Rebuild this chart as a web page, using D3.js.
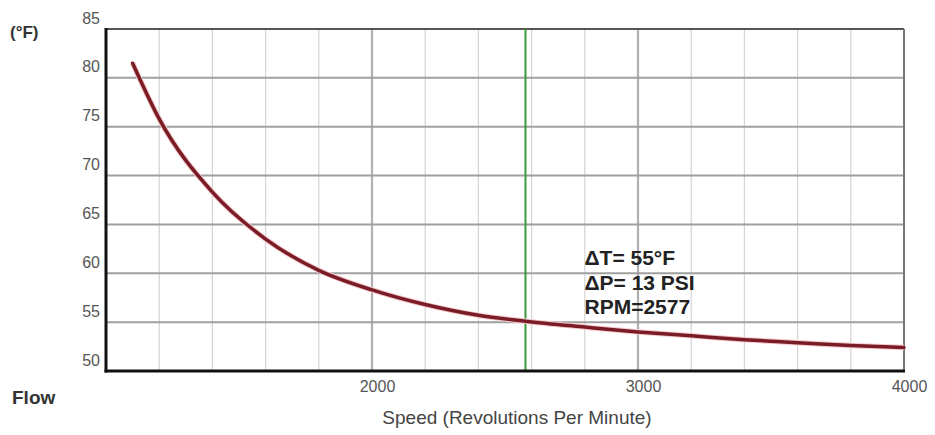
<!DOCTYPE html>
<html>
<head>
<meta charset="utf-8">
<script src="https://cdn.jsdelivr.net/npm/d3@7"></script>
<style>
  body { margin: 0; background: #fff; }
  svg { display: block; font-family: "Liberation Sans", Arial, sans-serif; }
</style>
</head>
<body>
<svg id="chart" width="935" height="435"></svg>
<script>
// Outlet temperature vs. pump speed
var rpm = [1100, 1200, 1400, 1600, 1800, 2000, 2200, 2400, 2577, 2800, 3000, 3200, 3400, 3600, 3800, 4000];
var tempF = [81.5, 75.8, 68.3, 63.5, 60.3, 58.3, 56.8, 55.7, 55.1, 54.5, 54.0, 53.6, 53.2, 52.9, 52.6, 52.4];

var yTicks = [50, 55, 60, 65, 70, 75, 80, 85];
var xTickLabels = [2000, 3000, 4000];
var xGrid = [1200, 1400, 1600, 1800, 2000, 2200, 2400, 2600, 2800, 3000, 3200, 3400, 3600, 3800];
var xMajor = [2000, 3000];

var markerRpm = 2577;
var noteLines = ["\u0394T= 55\u00b0F", "\u0394P= 13 PSI", "RPM=2577"];

var svg = d3.select("#chart"),
    margin = { top: 29, right: 31, bottom: 64, left: 106 },
    width = +svg.attr("width") - margin.left - margin.right,
    height = +svg.attr("height") - margin.top - margin.bottom;

var x = d3.scaleLinear().domain([1000, 4000]).range([0, width]);
var y = d3.scaleLinear().domain([50, 85]).range([height, 0]);

var g = svg.append("g")
    .attr("transform", "translate(" + margin.left + "," + margin.top + ")");

// vertical grid
g.selectAll(".vgrid")
    .data(xGrid)
    .enter().append("line")
    .attr("class", "vgrid")
    .attr("x1", function (d) { return x(d); })
    .attr("x2", function (d) { return x(d); })
    .attr("y1", 0)
    .attr("y2", height)
    .attr("stroke", function (d) { return xMajor.indexOf(d) >= 0 ? "#b0b0b0" : "#d4d4d4"; })
    .attr("stroke-width", function (d) { return xMajor.indexOf(d) >= 0 ? 2.2 : 1.2; });

// horizontal grid
g.selectAll(".hgrid")
    .data(yTicks.slice(1, -1))
    .enter().append("line")
    .attr("class", "hgrid")
    .attr("x1", 0)
    .attr("x2", width)
    .attr("y1", function (d) { return y(d); })
    .attr("y2", function (d) { return y(d); })
    .attr("stroke", "#a0a0a0")
    .attr("stroke-width", 2);

// frame
g.append("line").attr("x1", 0).attr("x2", width).attr("y1", 0).attr("y2", 0)
    .attr("stroke", "#555").attr("stroke-width", 2);
g.append("line").attr("x1", width).attr("x2", width).attr("y1", 0).attr("y2", height)
    .attr("stroke", "#777").attr("stroke-width", 2);

// marker line
g.append("line")
    .attr("x1", x(markerRpm)).attr("x2", x(markerRpm))
    .attr("y1", 0).attr("y2", height)
    .attr("stroke", "#3a9a3a")
    .attr("stroke-width", 2);

// curve
var pts = rpm.map(function (r, i) { return [r, tempF[i]]; });
var line = d3.line()
    .x(function (d) { return x(d[0]); })
    .y(function (d) { return y(d[1]); })
    .curve(d3.curveMonotoneX);

g.append("path")
    .datum(pts)
    .attr("fill", "none")
    .attr("stroke", "#f3c9cc")
    .attr("stroke-width", 5.5)
    .attr("d", line);
g.append("path")
    .datum(pts)
    .attr("fill", "none")
    .attr("stroke", "#7a1c25")
    .attr("stroke-width", 3.5)
    .attr("stroke-linecap", "round")
    .attr("d", line);

// left + bottom axis lines (thick black)
g.append("line").attr("x1", 0).attr("x2", 0).attr("y1", -1).attr("y2", height + 1.5)
    .attr("stroke", "#111").attr("stroke-width", 3);
g.append("line").attr("x1", -1.5).attr("x2", width + 1).attr("y1", height).attr("y2", height)
    .attr("stroke", "#111").attr("stroke-width", 3);

// y axis labels
var yAxis = g.append("g")
    .call(d3.axisLeft(y).tickValues(yTicks).tickSize(0).tickPadding(6));
yAxis.select(".domain").remove();
yAxis.selectAll("text")
    .attr("dy", -6)
    .attr("fill", "#555")
    .style("font-size", "16px")
    .style("font-family", "Liberation Sans, Arial, sans-serif");

// x axis labels
var xAxis = g.append("g")
    .attr("transform", "translate(0," + height + ")")
    .call(d3.axisBottom(x).tickValues(xTickLabels).tickFormat(d3.format("d")).tickSize(0).tickPadding(10));
xAxis.select(".domain").remove();
xAxis.selectAll("text")
    .attr("x", 5)
    .attr("dy", "0.71em")
    .attr("fill", "#555")
    .style("font-size", "16px")
    .style("font-family", "Liberation Sans, Arial, sans-serif");

// axis titles
svg.append("text")
    .attr("x", margin.left + x(2500) + 12)
    .attr("y", margin.top + height + 53)
    .attr("text-anchor", "middle")
    .attr("fill", "#444")
    .style("font-size", "19px")
    .text("Speed (Revolutions Per Minute)");

svg.append("text")
    .attr("x", 10)
    .attr("y", 38)
    .attr("fill", "#333")
    .style("font-size", "17px")
    .style("font-weight", "bold")
    .text("(\u00b0F)");

svg.append("text")
    .attr("x", 12)
    .attr("y", 404)
    .attr("fill", "#333")
    .style("font-size", "19px")
    .style("font-weight", "bold")
    .text("Flow");

// annotation
g.append("g")
    .selectAll("text")
    .data(noteLines)
    .enter().append("text")
    .attr("x", x(markerRpm) + 59)
    .attr("y", function (d, i) { return y(60) - 8 + i * 24.5; })
    .attr("fill", "#222")
    .style("font-size", "21px")
    .style("font-weight", "bold")
    .text(function (d) { return d; });
</script>
</body>
</html>
